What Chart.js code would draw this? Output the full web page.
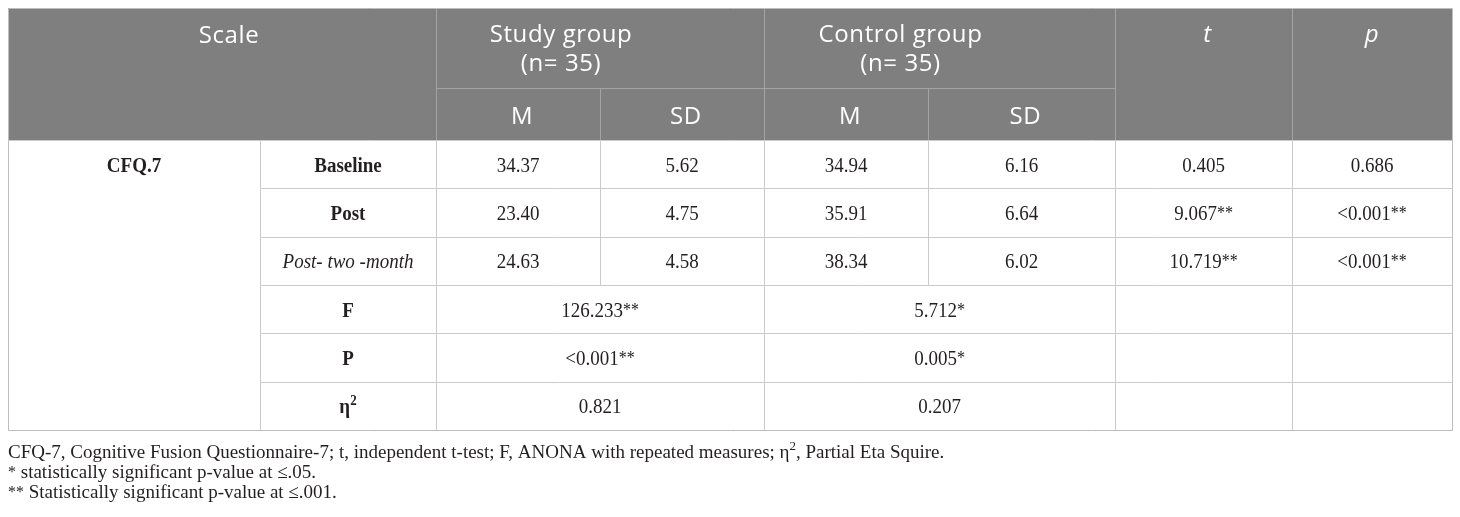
<!DOCTYPE html>
<html>
<head>
<meta charset="utf-8">
<script src="https://cdn.jsdelivr.net/npm/chart.js@4.4.0/dist/chart.umd.min.js"></script>
<style>
  html, body { margin: 0; background: #fff; }
  #wrap { width: 1460px; height: 517px; }
</style>
</head>
<body>
<div id="wrap"><canvas id="tbl"></canvas></div>
<script>
// table content
const scaleName = 'CFQ.7';
const timepoints = ['Baseline', 'Post', 'Post- two -month'];
const studyM = [34.37, 23.40, 24.63];
const studySD = [5.62, 4.75, 4.58];
const controlM = [34.94, 35.91, 38.34];
const controlSD = [6.16, 6.64, 6.02];
const tValues = [0.405, 9.067, 10.719];
const tStars = ['', '**', '**'];
const pValues = ['0.686', '<0.001', '<0.001'];
const pStars = ['', '**', '**'];
const statLabels = ['F', 'P', 'η^2'];
const studyStats = ['126.233', '<0.001', '0.821'];
const studyStars = ['**', '**', ''];
const controlStats = ['5.712', '0.005', '0.207'];
const controlStars = ['*', '*', ''];
const groupLabels = ['Study group', 'Control group'];
const groupN = [35, 35];
const subHeads = ['M', 'SD', 'M', 'SD'];
const footnotes = [
  'CFQ-7, Cognitive Fusion Questionnaire-7; t, independent t-test; F, ANONA with repeated measures; η^2, Partial Eta Squire.',
  '^* statistically significant p-value at ≤.05.',
  '^** Statistically significant p-value at ≤.001.'
];

// layout (in page units, mapped through the chart scales)
const colX = [8, 260, 436, 600, 764, 928, 1115, 1292, 1452];
const rowY = [8, 88, 140, 188.3, 236.7, 285, 333.3, 381.7, 430];
const footY = [458, 478, 498];

const HEAD_BG = '#7f7f7f';
const HEAD_LINE = '#a3a3a3';
const BODY_LINE = '#cbcbcb';
const TEXT = '#231f20';
const SANS = '"Open Sans", "Noto Sans", sans-serif';
const SERIF = '"Liberation Serif", "DejaVu Serif", serif';

function parseRich(str) {
  // '^' marks a superscript run (up to a space or comma)
  const parts = str.split('^');
  const out = [];
  if (parts[0]) out.push({ t: parts[0], sup: false });
  for (let i = 1; i < parts.length; i++) {
    const m = parts[i].match(/^[^\s,]+/);
    const sup = m ? m[0] : '';
    if (sup) out.push({ t: sup, sup: true });
    const rest = parts[i].slice(sup.length);
    if (rest) out.push({ t: rest, sup: false });
  }
  return out;
}

function drawRich(ctx, str, x, base, opt) {
  const segs = parseRich(str);
  const mainFont = opt.style + ' ' + opt.size + 'px ' + opt.family;
  const fontFor = s => {
    if (!s.sup) return mainFont;
    const star = s.t.indexOf('*') >= 0;
    const sz = Math.round(opt.size * (star ? 0.85 : 0.66));
    return opt.style + ' ' + sz + 'px ' + opt.family;
  };
  let total = 0;
  segs.forEach(s => {
    ctx.font = fontFor(s);
    s.w = ctx.measureText(s.t).width + (opt.spacing || 0) * s.t.length;
    total += s.w;
  });
  let cx = opt.align === 'left' ? x : x - total / 2;
  ctx.fillStyle = opt.color;
  ctx.textAlign = 'left';
  ctx.textBaseline = 'alphabetic';
  ctx.letterSpacing = (opt.spacing || 0) + 'px';
  segs.forEach(s => {
    ctx.font = fontFor(s);
    const dy = s.sup ? (s.t.indexOf('*') >= 0 ? -1 : -opt.size * 0.42) : 0;
    ctx.save();
    ctx.translate(cx, base + dy);
    ctx.scale(1, opt.stretch || 1);
    ctx.fillText(s.t, 0, 0);
    ctx.restore();
    cx += s.w;
  });
  ctx.letterSpacing = '0px';
}

const tablePlugin = {
  id: 'tableDraw',
  afterDraw(chart) {
    const ctx = chart.ctx;
    const xs = chart.scales.x, ys = chart.scales.y;
    const X = v => xs.getPixelForValue(v);
    const Y = v => ys.getPixelForValue(v);
    const line = (x0, y0, x1, y1, c) => {
      ctx.strokeStyle = c; ctx.lineWidth = 1;
      ctx.beginPath();
      ctx.moveTo(Math.round(X(x0)) + 0.5, Math.round(Y(y0)) + 0.5);
      ctx.lineTo(Math.round(X(x1)) + 0.5, Math.round(Y(y1)) + 0.5);
      ctx.stroke();
    };
    const mid = (a, b) => (X(a) + X(b)) / 2;

    ctx.save();
    // header block
    ctx.fillStyle = HEAD_BG;
    ctx.fillRect(X(colX[0]), Y(rowY[0]), X(colX[8]) - X(colX[0]), Y(rowY[2]) - Y(rowY[0]));
    line(colX[2], rowY[0], colX[2], rowY[2], HEAD_LINE);
    line(colX[4], rowY[0], colX[4], rowY[2], HEAD_LINE);
    line(colX[6], rowY[0], colX[6], rowY[2], HEAD_LINE);
    line(colX[7], rowY[0], colX[7], rowY[2], HEAD_LINE);
    line(colX[2], rowY[1], colX[6], rowY[1], HEAD_LINE);
    line(colX[3], rowY[1], colX[3], rowY[2], HEAD_LINE);
    line(colX[5], rowY[1], colX[5], rowY[2], HEAD_LINE);

    const head = { style: 'normal', size: 24, family: SANS, color: '#ffffff', spacing: 0.6 };
    drawRich(ctx, 'Scale', mid(colX[0], colX[2]) + 7, Y(43), head);
    groupLabels.forEach((g, i) => {
      const cx = mid(colX[2 + i * 2], colX[4 + i * 2]) - 39;
      drawRich(ctx, g, cx, Y(42), head);
      drawRich(ctx, '(n= ' + groupN[i] + ')', cx, Y(71), head);
    });
    drawRich(ctx, 't', mid(colX[6], colX[7]) + 4, Y(42), Object.assign({}, head, { style: 'italic' }));
    drawRich(ctx, 'p', mid(colX[7], colX[8]), Y(42), Object.assign({}, head, { style: 'italic' }));
    subHeads.forEach((s, i) => {
      drawRich(ctx, s, mid(colX[2 + i], colX[3 + i]) + 4, Y(124), head);
    });

    // body grid
    line(colX[0], rowY[0], colX[8], rowY[0], '#bdbdbd');
    line(colX[0], rowY[0], colX[0], rowY[8], '#bdbdbd');
    line(colX[8], rowY[0], colX[8], rowY[8], '#bdbdbd');
    line(colX[0], rowY[8], colX[8], rowY[8], '#bdbdbd');
    line(colX[0], rowY[2], colX[8], rowY[2], BODY_LINE);
    for (let r = 3; r < 8; r++) line(colX[1], rowY[r], colX[8], rowY[r], BODY_LINE);
    [1, 2, 4, 6, 7].forEach(c => line(colX[c], rowY[2], colX[c], rowY[8], BODY_LINE));
    [3, 5].forEach(c => line(colX[c], rowY[2], colX[c], rowY[5], BODY_LINE));

    const body = { style: 'normal', size: 19, family: SERIF, color: TEXT, stretch: 1.12 };
    const bold = Object.assign({}, body, { style: 'bold' });
    const ital = Object.assign({}, body, { style: 'italic' });
    const base = r => (Y(rowY[r]) + Y(rowY[r + 1])) / 2 + 7.5;

    drawRich(ctx, scaleName, mid(colX[0], colX[1]), base(2), bold);
    timepoints.forEach((tp, i) => {
      const r = 2 + i;
      drawRich(ctx, tp, mid(colX[1], colX[2]), base(r), i === 2 ? ital : bold);
      drawRich(ctx, studyM[i].toFixed(2), mid(colX[2], colX[3]), base(r), body);
      drawRich(ctx, studySD[i].toFixed(2), mid(colX[3], colX[4]), base(r), body);
      drawRich(ctx, controlM[i].toFixed(2), mid(colX[4], colX[5]), base(r), body);
      drawRich(ctx, controlSD[i].toFixed(2), mid(colX[5], colX[6]), base(r), body);
      drawRich(ctx, tValues[i].toFixed(3) + (tStars[i] ? '^' + tStars[i] : ''), mid(colX[6], colX[7]), base(r), body);
      drawRich(ctx, pValues[i] + (pStars[i] ? '^' + pStars[i] : ''), mid(colX[7], colX[8]), base(r), body);
    });
    statLabels.forEach((lab, i) => {
      const r = 5 + i;
      drawRich(ctx, lab, mid(colX[1], colX[2]), base(r), bold);
      drawRich(ctx, studyStats[i] + (studyStars[i] ? '^' + studyStars[i] : ''), mid(colX[2], colX[4]), base(r), body);
      drawRich(ctx, controlStats[i] + (controlStars[i] ? '^' + controlStars[i] : ''), mid(colX[4], colX[6]), base(r), body);
    });

    // footnotes
    const foot = { style: 'normal', size: 19, family: SERIF, color: TEXT, align: 'left' };
    footnotes.forEach((f, i) => drawRich(ctx, f, X(colX[0]), Y(footY[i]), foot));
    ctx.restore();
  }
};

new Chart(document.getElementById('tbl'), {
  type: 'scatter',
  data: { datasets: [{ data: [], pointRadius: 0 }] },
  options: {
    responsive: true,
    maintainAspectRatio: false,
    animation: false,
    events: [],
    layout: { padding: 0 },
    plugins: { legend: { display: false }, tooltip: { enabled: false } },
    scales: {
      x: { type: 'linear', min: 0, max: 1460, display: false },
      y: { type: 'linear', min: 0, max: 517, reverse: true, display: false }
    }
  },
  plugins: [tablePlugin]
});
</script>
</body>
</html>
